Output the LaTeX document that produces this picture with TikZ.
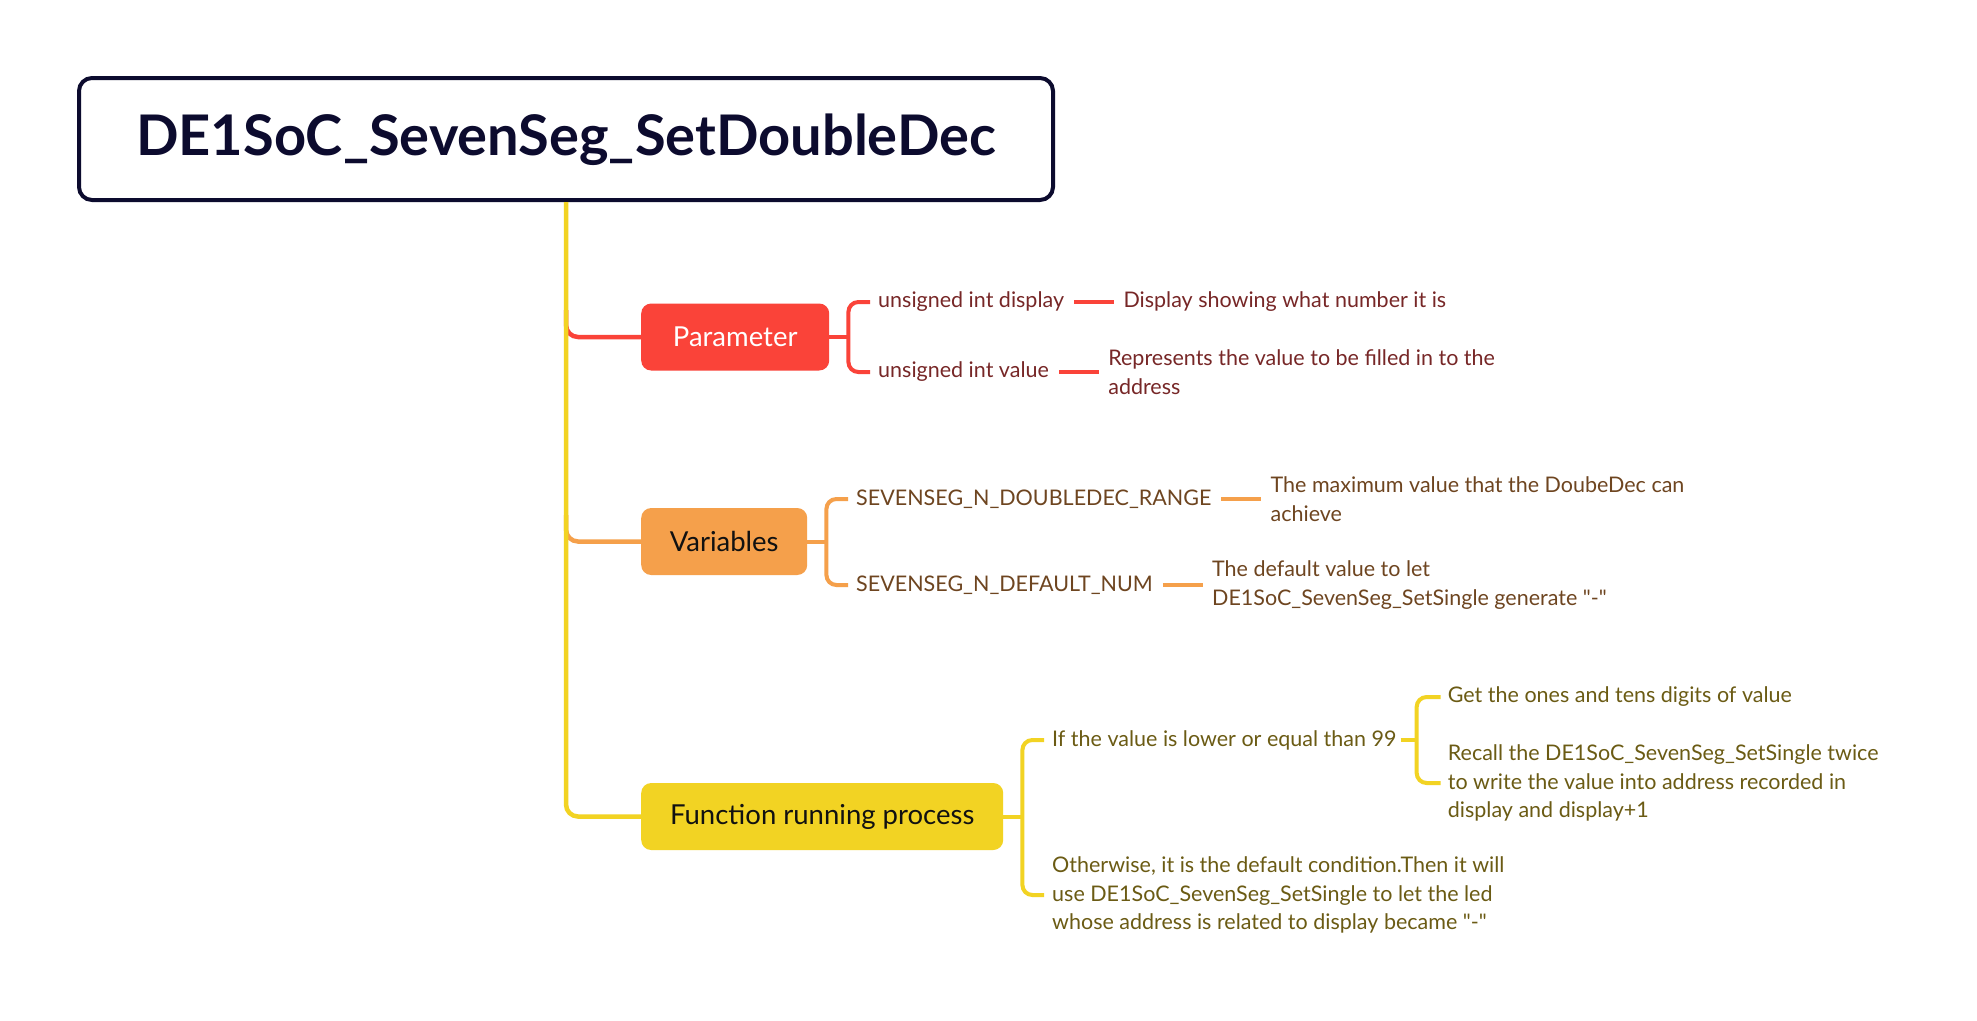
\documentclass[tikz,border=0pt]{standalone}
\usepackage{fontspec}
\setmainfont{Lato}[Ligatures=TeXOff]
\usetikzlibrary{calc}
\definecolor{navy}{HTML}{0C0B2E}
\definecolor{cred}{HTML}{FA4339}
\definecolor{corange}{HTML}{F5A04B}
\definecolor{cyellow}{HTML}{F2D323}
\definecolor{tred}{HTML}{772727}
\definecolor{tbrown}{HTML}{6E4520}
\definecolor{tolive}{HTML}{6B5B14}
\definecolor{tdark}{HTML}{111111}
\begin{document}
\begin{tikzpicture}[x=1pt,y=-1pt,
  titlebox/.style={draw=navy, line width=4pt, rounded corners=13pt, minimum width=974pt, minimum height=122pt, inner sep=0pt, text height=32pt, text depth=0pt, font=\fontsize{56}{64}\selectfont\bfseries, text=navy},
  topic/.style={rounded corners=10pt, minimum height=67pt, inner xsep=0pt, anchor=west, font=\fontsize{27.5}{32}\selectfont},
  leaf/.style={anchor=west, inner sep=0pt, align=left, font=\fontsize{21.5}{28.5}\selectfont},
  branch/.style={line width=4.5pt, rounded corners=12pt},
  twig/.style={line width=4pt},
  link/.style={line width=4pt, shorten <=10pt, shorten >=9pt},
]
\useasboundingbox (0,0) rectangle (1977,1020);
\fill[white] (0,0) rectangle (1977,1020);

% title
\node[titlebox] (t) at (566,139) {DE1SoC\_SevenSeg\_SetDoubleDec};

% topics
\node[topic, fill=cred, text=white, minimum width=188pt] (par) at (641,337) {Parameter};
\node[topic, fill=corange, text=tdark, minimum width=166pt] (var) at (641,541.5) {Variables};
\node[topic, fill=cyellow, text=tdark, minimum width=362pt] (fun) at (641,816.5) {Function running process};

% main branches (drawn under the trunk)
\draw[branch, draw=cred] (t.south |- 0,310) |- (par.west);
\draw[branch, draw=corange] (t.south |- 0,515) |- (var.west);
\draw[branch, draw=cyellow] (t.south) |- (fun.west);

% Parameter children
\node[leaf, text=tred] (p1) at (878,302) {unsigned int display};
\node[leaf, text=tred] (p2) at (878,372) {unsigned int value};
\node[leaf, text=tred] (p1d) at ([xshift=59pt]p1.east) {Display showing what number it is};
\node[leaf, text=tred] (p2d) at ([xshift=59pt]p2.east) {Represents the value to be filled in to the\\address};
\coordinate (ps) at ([xshift=19pt]par.east);
\draw[twig, draw=cred] (par.east) -- (ps);
\draw[twig, draw=cred, rounded corners=10pt] ([xshift=-8pt]p1.west) -| (ps) |- ([xshift=-8pt]p2.west);
\draw[link, draw=cred] (p1.east) -- (p1d.west);
\draw[link, draw=cred] (p2.east) -- (p2d.west);

% Variables children
\node[leaf, text=tbrown] (v1) at (856,499) {SEVENSEG\_N\_DOUBLEDEC\_RANGE};
\node[leaf, text=tbrown] (v2) at (856,585) {SEVENSEG\_N\_DEFAULT\_NUM};
\node[leaf, text=tbrown] (v1d) at ([xshift=59pt]v1.east) {The maximum value that the DoubeDec can\\achieve};
\node[leaf, text=tbrown] (v2d) at ([xshift=59pt]v2.east) {The default value to let\\DE1SoC\_SevenSeg\_SetSingle generate "-"};
\coordinate (vs) at ([xshift=19pt]var.east);
\draw[twig, draw=corange] (var.east) -- (vs);
\draw[twig, draw=corange, rounded corners=10pt] ([xshift=-8pt]v1.west) -| (vs) |- ([xshift=-8pt]v2.west);
\draw[link, draw=corange] (v1.east) -- (v1d.west);
\draw[link, draw=corange] (v2.east) -- (v2d.west);

% Function children
\node[leaf, text=tolive] (f1) at (1052,740) {If the value is lower or equal than 99};
\node[leaf, text=tolive] (f2) at (1052,895) {Otherwise, it is the default condition.Then it will\\use DE1SoC\_SevenSeg\_SetSingle to let the led\\whose address is related to display became "-"};
\coordinate (fs) at ([xshift=19pt]fun.east);
\draw[twig, draw=cyellow] (fun.east) -- (fs);
\draw[twig, draw=cyellow, rounded corners=10pt] ([xshift=-8pt]f1.west) -| (fs) |- ([xshift=-8pt]f2.west);

\coordinate (gs) at ([xshift=20pt]f1.east);
\node[leaf, text=tolive] (g1) at ($(gs)+(31,-43)$) {Get the ones and tens digits of value};
\node[leaf, text=tolive] (g2) at ($(gs)+(31,43)$) {Recall the DE1SoC\_SevenSeg\_SetSingle twice\\to write the value into address recorded in\\display and display+1};
\draw[twig, draw=cyellow, shorten <=4pt] (f1.east) -- (gs);
\draw[twig, draw=cyellow, rounded corners=10pt] ([xshift=-7pt]g1.west) -| (gs) |- ([xshift=-7pt]g2.west);
\end{tikzpicture}
\end{document}
